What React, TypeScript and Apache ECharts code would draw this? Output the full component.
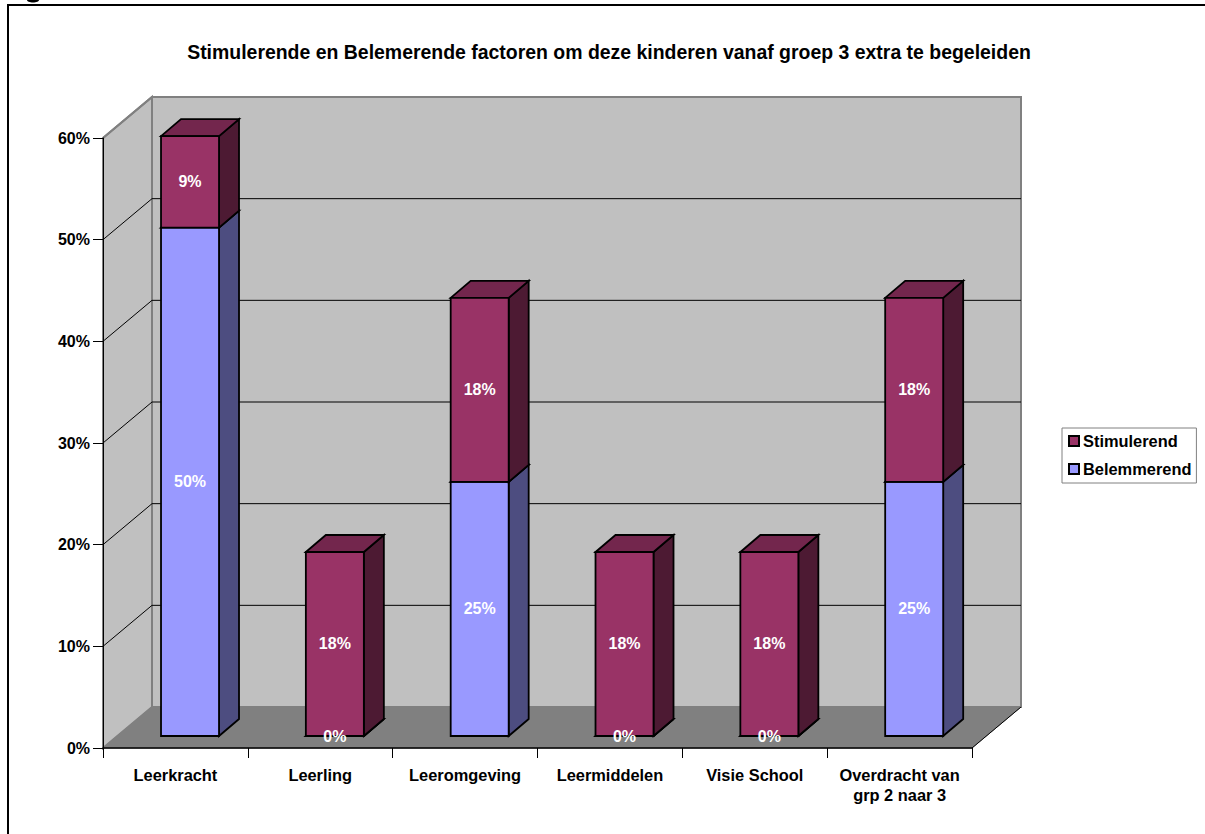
import React, { useEffect, useRef } from "react";
import * as echarts from "echarts";

const categories = ["Leerkracht", "Leerling", "Leeromgeving", "Leermiddelen", "Visie School", "Overdracht van\ngrp 2 naar 3"];
const belemmerend = [50, 0, 25, 0, 0, 25];
const stimulerend = [9, 18.1, 18.1, 18.1, 18.1, 18.1];
const yTicks = [10, 20, 30, 40, 50, 60];

const W = 1205;
const H = 834;
const GRID = { left: 103, top: 138, width: 869, height: 610 };
// projection of the 3D box, in pixels
const WALL_DX = 49;
const WALL_DY = -41;
const BAR_SHIFT_DX = 14.6;
const BAR_SHIFT_DY = -12;
const BAR_W = 58;
const BAR_DX = 20;
const BAR_DY = -17;
const FONT = '"Liberation Sans", Arial, sans-serif';
const FS = 16;
const FS_AXIS = 16.4;

const poly = (points: number[][], fill: string, stroke: string, lineWidth = 1.8) => ({
  type: "polygon",
  shape: { points },
  style: { fill, stroke, lineWidth, lineJoin: "miter" },
});

const plotLeft = (api: any) => api.coord([0, 0])[0] - api.size([1, 0])[0] / 2;

const renderWalls = (_: any, api: any) => {
  const x0 = plotLeft(api);
  const y0 = api.coord([0, 0])[1];
  const yT = api.coord([0, 60])[1];
  const x1 = x0 + api.size([1, 0])[0] * categories.length;
  const wall = "#C0C0C0";
  const edge = "#808080";
  return {
    type: "group",
    children: [
      poly([[x0 + WALL_DX, yT + WALL_DY], [x1 + WALL_DX, yT + WALL_DY], [x1 + WALL_DX, y0 + WALL_DY], [x0 + WALL_DX, y0 + WALL_DY]], wall, edge, 2),
      poly([[x0, yT], [x0 + WALL_DX, yT + WALL_DY], [x0 + WALL_DX, y0 + WALL_DY], [x0, y0]], wall, edge, 2),
    ],
  };
};

const renderGridline = (params: any, api: any) => {
  const v = api.value(1);
  const x0 = plotLeft(api);
  const y = api.coord([0, v])[1];
  const x1 = x0 + api.size([1, 0])[0] * categories.length;
  const top = v === 60;
  return {
    type: "polyline",
    shape: { points: [[x0, y], [x0 + WALL_DX, y + WALL_DY], [x1 + WALL_DX, y + WALL_DY]] },
    style: { fill: "none", stroke: top ? "#808080" : "#000000", lineWidth: top ? 2 : 1 },
  };
};

const renderFloor = (_: any, api: any) => {
  const x0 = plotLeft(api);
  const y0 = api.coord([0, 0])[1];
  const x1 = x0 + api.size([1, 0])[0] * categories.length;
  const f = poly([[x0, y0], [x0 + WALL_DX, y0 + WALL_DY], [x1 + WALL_DX, y0 + WALL_DY], [x1, y0]], "#808080", "#808080", 1);
  return {
    type: "group",
    children: [
      f,
      { type: "line", shape: { x1: x1, y1: y0, x2: x1 + WALL_DX, y2: y0 + WALL_DY }, style: { stroke: "#000000", lineWidth: 1 } },
    ],
  };
};

const makeBarRenderer = (front: string, side: string, top: string, below: number[], values: number[]) =>
  (params: any, api: any) => {
    const i = params.dataIndex;
    const base = below[i];
    const val = values[i];
    const cx = api.coord([i, 0])[0] + BAR_SHIFT_DX;
    const yb = api.coord([i, base])[1] + BAR_SHIFT_DY;
    const yt = api.coord([i, base + val])[1] + BAR_SHIFT_DY;
    const l = cx - BAR_W / 2;
    const r = cx + BAR_W / 2;
    return {
      type: "group",
      children: [
        poly([[r, yb], [r + BAR_DX, yb + BAR_DY], [r + BAR_DX, yt + BAR_DY], [r, yt]], side, "#000000"),
        poly([[l, yt], [l + BAR_DX, yt + BAR_DY], [r + BAR_DX, yt + BAR_DY], [r, yt]], top, "#000000"),
        poly([[l, yb], [r, yb], [r, yt], [l, yt]], front, "#000000"),
        {
          type: "text",
          z2: 100,
          style: {
            x: cx,
            y: (yb + yt) / 2,
            text: Math.round(val) + "%",
            fill: "#FFFFFF",
            font: `bold ${FS}px ${FONT}`,
            align: "center",
            verticalAlign: "middle",
          },
        },
      ],
    };
  };

const zeros = categories.map(() => 0);

export default function App() {
  const ref = useRef<HTMLDivElement>(null);
  useEffect(() => {
    const chart = echarts.init(ref.current!, undefined, { renderer: "svg" });
    chart.setOption({
      animation: false,
      backgroundColor: "#FFFFFF",
      textStyle: { fontFamily: FONT },
      title: {
        text: "Stimulerende en Belemerende factoren om deze kinderen vanaf groep 3 extra te begeleiden",
        left: 604,
        top: 37,
        textAlign: "center",
        textStyle: { fontFamily: FONT, fontWeight: "bold", fontSize: 19.45, color: "#000000" },
      },
      legend: {
        orient: "vertical",
        left: 1062,
        top: 428,
        data: ["Stimulerend", "Belemmerend"],
        icon: "rect",
        itemWidth: 10,
        itemHeight: 10,
        itemGap: 12,
        padding: [5, 5, 6, 6],
        borderColor: "#808080",
        borderWidth: 1,
        backgroundColor: "#FFFFFF",
        textStyle: { fontFamily: FONT, fontWeight: "bold", fontSize: FS_AXIS, color: "#000000", padding: [0, 0, 0, -1] },
      },
      grid: { left: GRID.left, top: GRID.top, width: GRID.width, height: GRID.height, containLabel: false },
      xAxis: {
        type: "category",
        data: categories,
        z: 10,
        boundaryGap: true,
        axisLine: { show: true, lineStyle: { color: "#000000", width: 1.5 } },
        axisTick: { show: true, length: 10, alignWithLabel: false, lineStyle: { color: "#000000", width: 1 } },
        axisLabel: { interval: 0, margin: 17, color: "#000000", fontFamily: FONT, fontWeight: "bold", fontSize: FS_AXIS, lineHeight: 20 },
        splitLine: { show: false },
      },
      yAxis: {
        type: "value",
        min: 0,
        max: 60,
        interval: 10,
        z: 10,
        axisLine: { show: true, lineStyle: { color: "#000000", width: 1 } },
        axisTick: { show: true, length: 10, lineStyle: { color: "#000000", width: 1 } },
        axisLabel: { margin: 13, color: "#000000", fontFamily: FONT, fontWeight: "bold", fontSize: FS, formatter: "{value}%" },
        splitLine: { show: false },
      },
      graphic: [
        { type: "rect", z: 20, shape: { x: 8, y: 5, width: 1300, height: 900 }, style: { fill: "none", stroke: "#000000", lineWidth: 2 } },
        { type: "ellipse", z: 20, shape: { cx: 33, cy: 0, rx: 6, ry: 2.5 }, style: { fill: "#000000" } },
      ],
      series: [
        { type: "custom", name: "walls", z: 1, silent: true, coordinateSystem: "cartesian2d", data: [[0, 0]], encode: { x: 0, y: 1 }, clip: false, renderItem: renderWalls },
        { type: "custom", name: "gridlines", z: 2, silent: true, coordinateSystem: "cartesian2d", data: yTicks.map((t) => [0, t]), encode: { x: 0, y: 1 }, clip: false, renderItem: renderGridline },
        { type: "custom", name: "floor", z: 3, silent: true, coordinateSystem: "cartesian2d", data: [[0, 0]], encode: { x: 0, y: 1 }, clip: false, renderItem: renderFloor },
        {
          type: "custom",
          name: "Belemmerend",
          z: 4,
          coordinateSystem: "cartesian2d",
          clip: false,
          itemStyle: { color: "#9999FF", borderColor: "#000000", borderWidth: 1.5 },
          data: belemmerend,
          renderItem: makeBarRenderer("#9999FF", "#4D4D80", "#7373BF", zeros, belemmerend),
        },
        {
          type: "custom",
          name: "Stimulerend",
          z: 4,
          coordinateSystem: "cartesian2d",
          clip: false,
          itemStyle: { color: "#993366", borderColor: "#000000", borderWidth: 1.5 },
          data: stimulerend,
          renderItem: makeBarRenderer("#993366", "#4D1A33", "#73264D", belemmerend, stimulerend),
        },
      ],
    });
    return () => chart.dispose();
  }, []);
  return <div ref={ref} style={{ position: "absolute", left: 0, top: 0, width: W, height: H }} />;
}
